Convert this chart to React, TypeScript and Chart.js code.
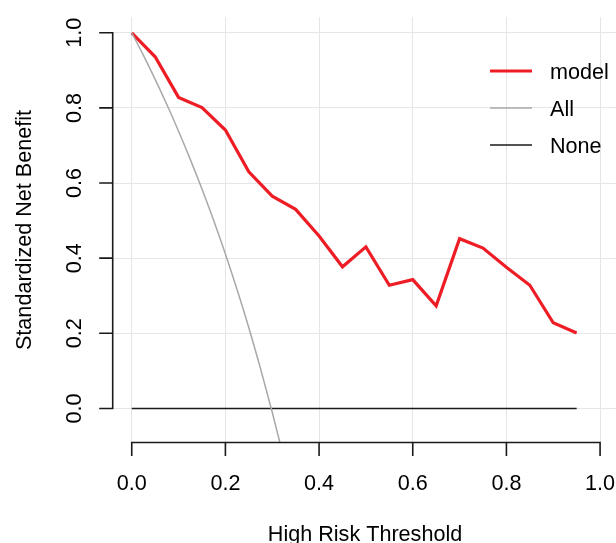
import React, { useEffect, useRef } from "react";
import { Chart, registerables } from "chart.js";

Chart.register(...registerables);

// ---- data ----
const thresholds = [0, 0.05, 0.1, 0.15, 0.2, 0.25, 0.3, 0.35, 0.4, 0.45, 0.5, 0.55, 0.6, 0.65, 0.7, 0.75, 0.8, 0.85, 0.9, 0.95];
const modelNB = [1.0, 0.936, 0.828, 0.801, 0.741, 0.63, 0.565, 0.53, 0.459, 0.377, 0.43, 0.328, 0.343, 0.273, 0.452, 0.427, 0.376, 0.328, 0.228, 0.201];

const allThresholds = [0, 0.025, 0.05, 0.075, 0.1, 0.125, 0.15, 0.175, 0.2, 0.225, 0.25, 0.275, 0.3, 0.325];
const allNB = [1.0, 0.94, 0.876, 0.809, 0.738, 0.663, 0.584, 0.5, 0.411, 0.316, 0.215, 0.106, -0.01, -0.134];

const noneThresholds = [0, 0.95];
const noneNB = [0, 0];

const xTicks = [0, 0.2, 0.4, 0.6, 0.8, 1.0];
const xTickLabels = ["0.0", "0.2", "0.4", "0.6", "0.8", "1.0"];
const yTicks = [0, 0.2, 0.4, 0.6, 0.8, 1.0];
const yTickLabels = ["0.0", "0.2", "0.4", "0.6", "0.8", "1.0"];

const seriesNames = ["model", "All", "None"];
const seriesColors = ["#EE1D25", "#A8A8A8", "#1A1A1A"];
const seriesWidths = [3.2, 1.5, 1.5];

const xTitle = "High Risk Threshold";
const yTitle = "Standardized Net Benefit";

const FONT = '21.6px "Liberation Sans", Arial, Helvetica, sans-serif';

const rStylePlugin = {
  id: "rStyle",
  afterDraw(chart: any) {
    const ctx = chart.ctx as CanvasRenderingContext2D;
    const xs = chart.scales.x;
    const ys = chart.scales.y;
    const ca = chart.chartArea;
    ctx.save();
    ctx.strokeStyle = "#1A1A1A";
    ctx.lineWidth = 1.6;
    ctx.lineCap = "butt";

    // x axis
    const yb = ca.bottom - 0.5;
    const xa = xs.getPixelForValue(xTicks[0]);
    const xb = xs.getPixelForValue(xTicks[xTicks.length - 1]);
    ctx.beginPath();
    ctx.moveTo(xa - 0.8, yb);
    ctx.lineTo(xb + 0.8, yb);
    xTicks.forEach((v) => {
      const p = xs.getPixelForValue(v);
      ctx.moveTo(p, yb);
      ctx.lineTo(p, yb + 13.5);
    });
    ctx.stroke();

    // y axis
    const xl = ca.left - 0.3;
    const ya = ys.getPixelForValue(yTicks[0]);
    const yz = ys.getPixelForValue(yTicks[yTicks.length - 1]);
    ctx.beginPath();
    ctx.moveTo(xl, ya + 0.8);
    ctx.lineTo(xl, yz - 0.8);
    yTicks.forEach((v) => {
      const p = ys.getPixelForValue(v);
      ctx.moveTo(xl, p);
      ctx.lineTo(xl - 13.5, p);
    });
    ctx.stroke();

    ctx.fillStyle = "#000";
    ctx.font = FONT;

    // x tick labels
    ctx.textAlign = "center";
    ctx.textBaseline = "alphabetic";
    xTicks.forEach((v, i) => {
      ctx.fillText(xTickLabels[i], xs.getPixelForValue(v), 490);
    });

    // y tick labels (rotated)
    yTicks.forEach((v, i) => {
      ctx.save();
      ctx.translate(81, ys.getPixelForValue(v));
      ctx.rotate(-Math.PI / 2);
      ctx.fillText(yTickLabels[i], 0, 0);
      ctx.restore();
    });

    // titles
    ctx.fillText(xTitle, (ca.left + ca.right) / 2 + 0.5, 541);
    ctx.save();
    ctx.translate(31, (ca.top + ca.bottom) / 2);
    ctx.rotate(-Math.PI / 2);
    ctx.fillText(yTitle, 0, 0);
    ctx.restore();

    // legend
    const legendY = [71, 108, 145];
    ctx.textAlign = "left";
    seriesNames.forEach((name, i) => {
      ctx.beginPath();
      ctx.strokeStyle = seriesColors[i];
      ctx.lineWidth = seriesWidths[i];
      ctx.moveTo(490, legendY[i]);
      ctx.lineTo(532, legendY[i]);
      ctx.stroke();
      ctx.fillText(name, 550, legendY[i] + 7.5);
    });

    ctx.restore();
  },
};

export default function App() {
  const canvasRef = useRef<HTMLCanvasElement | null>(null);

  useEffect(() => {
    if (!canvasRef.current) return;
    const chart = new Chart(canvasRef.current, {
      type: "line",
      data: {
        datasets: [
          {
            label: seriesNames[1],
            data: allThresholds.map((t, i) => ({ x: t, y: allNB[i] })),
            borderColor: seriesColors[1],
            borderWidth: seriesWidths[1],
            pointRadius: 0,
            cubicInterpolationMode: "monotone",
            fill: false,
          },
          {
            label: seriesNames[2],
            data: noneThresholds.map((t, i) => ({ x: t, y: noneNB[i] })),
            borderColor: seriesColors[2],
            borderWidth: seriesWidths[2],
            pointRadius: 0,
            fill: false,
          },
          {
            label: seriesNames[0],
            data: thresholds.map((t, i) => ({ x: t, y: modelNB[i] })),
            borderColor: seriesColors[0],
            borderWidth: seriesWidths[0],
            pointRadius: 0,
            tension: 0,
            fill: false,
          },
        ],
      },
      options: {
        animation: false,
        responsive: false,
        maintainAspectRatio: false,
        layout: { padding: { left: 113, right: 0, top: 17, bottom: 100 } },
        plugins: { legend: { display: false }, tooltip: { enabled: false } },
        scales: {
          x: {
            type: "linear",
            min: -0.04,
            max: 1.034,
            afterBuildTicks: (scale: any) => {
              scale.ticks = xTicks.map((v) => ({ value: v }));
            },
            grid: { color: "#E6E6E6", lineWidth: 1, drawTicks: false },
            border: { display: false },
            ticks: { display: false },
          },
          y: {
            type: "linear",
            min: -0.092,
            max: 1.042,
            afterBuildTicks: (scale: any) => {
              scale.ticks = yTicks.map((v) => ({ value: v }));
            },
            grid: { color: "#E6E6E6", lineWidth: 1, drawTicks: false },
            border: { display: false },
            ticks: { display: false },
          },
        },
      },
      plugins: [rStylePlugin],
    });
    return () => chart.destroy();
  }, []);

  return (
    <div style={{ position: "absolute", left: 0, top: 0, width: 616, height: 543, background: "#fff" }}>
      <canvas ref={canvasRef} width={616} height={543} style={{ display: "block" }} />
    </div>
  );
}
